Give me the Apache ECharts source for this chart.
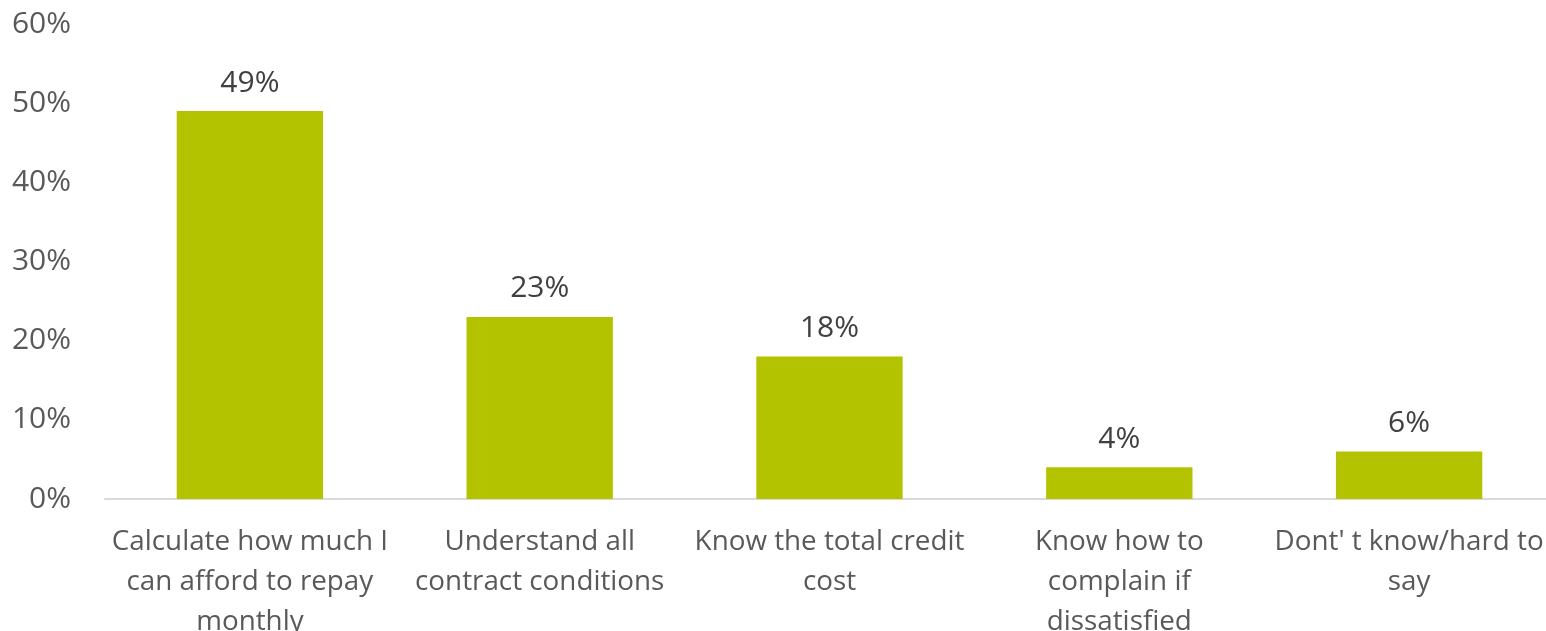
<!DOCTYPE html>
<html>
<head>
<meta charset="utf-8">
<script src="https://cdn.jsdelivr.net/npm/echarts@6/dist/echarts.min.js"></script>
<style>
  html, body { margin: 0; padding: 0; background: #fff; overflow: hidden; }
  #chart { width: 100vw; height: 100vh; }
</style>
</head>
<body>
<div id="chart"></div>
<script>
// Survey answers: what respondents say they can do before taking credit
const categories = [
  'Calculate how much I\ncan afford to repay\nmonthly',
  'Understand all\ncontract conditions',
  'Know the total credit\ncost',
  'Know how to\ncomplain if\ndissatisfied',
  "Dont' t know/hard to\nsay"
];
const shares = [49, 23, 18, 4, 6];
const yTicks = [0, 10, 20, 30, 40, 50, 60];

const FONT = '"Open Sans", "DejaVu Sans", sans-serif';

const chart = echarts.init(document.getElementById('chart'), null, { renderer: 'canvas' });
chart.setOption({
  animation: false,
  grid: {
    left: 105, right: -8, top: 24, bottom: 132,
    containLabel: false,
    outerBoundsMode: 'none'
  },
  xAxis: {
    type: 'category',
    data: categories,
    axisLine: { lineStyle: { color: '#D9D9D9', width: 2 } },
    axisTick: { show: false },
    axisLabel: {
      interval: 0,
      color: '#595959',
      fontFamily: FONT,
      fontSize: 27.8,
      lineHeight: 40,
      margin: 23
    }
  },
  yAxis: {
    type: 'value',
    min: yTicks[0],
    max: yTicks[yTicks.length - 1],
    interval: 10,
    axisLine: { show: false },
    axisTick: { show: false },
    splitLine: { show: false },
    axisLabel: {
      color: '#595959',
      fontFamily: FONT,
      fontSize: 30,
      margin: 34,
      verticalAlign: 'middle',
      padding: [3, 0, 0, 0],
      formatter: v => v + '%'
    }
  },
  series: [{
    type: 'bar',
    data: shares,
    barWidth: '50.5%',
    itemStyle: { color: '#B3C300' },
    label: {
      show: true,
      position: 'top',
      distance: 13,
      color: '#404040',
      fontFamily: FONT,
      fontSize: 30,
      formatter: p => p.value + '%'
    }
  }]
});
window.addEventListener('resize', () => chart.resize());
</script>
</body>
</html>
